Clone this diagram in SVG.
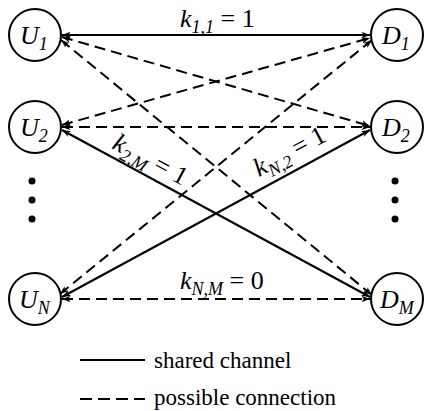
<svg xmlns="http://www.w3.org/2000/svg" width="424" height="411" viewBox="0 0 424 411">
<defs>
<marker id="ah" markerUnits="userSpaceOnUse" markerWidth="10" markerHeight="8" refX="8.5" refY="3.5" orient="auto-start-reverse">
<path d="M0,0.3 L8.5,3.5 L0,6.7 L2.2,3.5 z" fill="#000"/>
</marker>
<style>
.n{fill:#fff;stroke:#000;stroke-width:2}
.f{font-family:"Times New Roman","Liberation Serif",Tinos,"DejaVu Serif",serif;fill:#000}
.t{font-style:italic}
.c{font-size:26px}
.s{font-size:18px}
.lbl{font-size:26px}
.sub{font-size:18px;font-style:italic}
.solid{stroke:#000;stroke-width:2;fill:none;marker-start:url(#ah);marker-end:url(#ah)}
.dash{stroke:#000;stroke-width:2;fill:none;stroke-dasharray:11 6;marker-start:url(#ah);marker-end:url(#ah)}
.leg{font-size:23px}
</style>
</defs>
<rect width="424" height="411" fill="#fff"/>
<g id="connectors">
<line class="solid" x1="62" y1="35" x2="370" y2="35"/>
<line class="dash" x1="62" y1="37" x2="370" y2="126"/>
<line class="dash" x1="61" y1="40" x2="372" y2="295"/>
<line class="dash" x1="62" y1="125" x2="370" y2="38"/>
<line class="dash" x1="62" y1="127" x2="370" y2="127"/>
<line class="solid" x1="62" y1="130" x2="370" y2="297"/>
<line class="dash" x1="60" y1="294" x2="372" y2="40"/>
<line class="solid" x1="62" y1="297" x2="370" y2="130"/>
<line class="dash" x1="62" y1="299" x2="370" y2="299"/>
</g>
<g id="U1"><circle class="n" cx="35" cy="35" r="26"/><text class="f t c" x="20" y="44">U<tspan class="s" dy="6">1</tspan></text></g>
<g id="U2"><circle class="n" cx="35" cy="127" r="26"/><text class="f t c" x="20" y="136">U<tspan class="s" dy="6">2</tspan></text></g>
<g id="UN"><circle class="n" cx="35" cy="299" r="26"/><text class="f t c" x="19" y="308">U<tspan class="s" dy="6">N</tspan></text></g>
<g id="D1"><circle class="n" cx="397" cy="35" r="26"/><text class="f t c" x="382" y="44">D<tspan class="s" dy="6">1</tspan></text></g>
<g id="D2"><circle class="n" cx="397" cy="127" r="26"/><text class="f t c" x="382" y="136">D<tspan class="s" dy="6">2</tspan></text></g>
<g id="DM"><circle class="n" cx="397" cy="299" r="26"/><text class="f t c" x="380" y="308">D<tspan class="s" dy="6">M</tspan></text></g>
<g id="dots" fill="#000">
<circle cx="32" cy="181" r="3.5"/><circle cx="32" cy="200" r="3.5"/><circle cx="32" cy="219" r="3.5"/>
<circle cx="395" cy="181" r="3.5"/><circle cx="395" cy="200" r="3.5"/><circle cx="395" cy="219" r="3.5"/>
</g>
<g id="labels">
<text class="f lbl" x="180" y="27"><tspan font-style="italic">k</tspan><tspan class="sub" dy="6">1,1</tspan><tspan dy="-6"> = 1</tspan></text>
<text class="f lbl" transform="translate(111,148) rotate(28)"><tspan font-style="italic">k</tspan><tspan class="sub" dy="6">2,M</tspan><tspan dy="-6"> = 1</tspan></text>
<text class="f lbl" transform="translate(259,177) rotate(-28)"><tspan font-style="italic">k</tspan><tspan class="sub" dy="6">N,2</tspan><tspan dy="-6"> = 1</tspan></text>
<text class="f lbl" x="180" y="289"><tspan font-style="italic">k</tspan><tspan class="sub" dy="6">N,M</tspan><tspan dy="-6"> = 0</tspan></text>
</g>
<g id="legend">
<line x1="80" y1="360" x2="145" y2="360" stroke="#000" stroke-width="2"/>
<line x1="80" y1="399" x2="145" y2="399" stroke="#000" stroke-width="2" stroke-dasharray="12 6"/>
<text class="f leg" x="154" y="368">shared channel</text>
<text class="f leg" x="154" y="405">possible connection</text>
</g>
</svg>
